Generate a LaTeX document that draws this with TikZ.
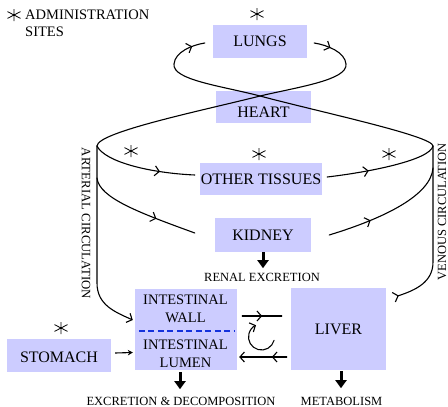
\documentclass[tikz,border=0pt]{standalone}
\usepackage{fontspec}
\setmainfont{Liberation Serif}
\usetikzlibrary{arrows.meta,decorations.markings,calc}
\definecolor{organfill}{RGB}{204,204,255}
\definecolor{wallblue}{RGB}{20,50,220}
\tikzset{
  organ/.style={fill=organfill, inner sep=0pt, align=center,
    font=\fontsize{16}{18}\selectfont},
  gutlabel/.style={inner sep=0pt, align=center, font=\fontsize{14.5}{18}\selectfont},
  flow/.style={line width=1.1pt, line cap=round, line join=round},
  barb/.tip={Straight Barb[length=4.5pt,width=10pt]},
  midtip/.style={postaction={decorate, decoration={markings,
      mark=at position #1 with {\arrow[line width=1.1pt]{barb}}}}},
  bigout/.style={line width=3pt, -{Triangle[length=8pt,width=11pt]}},
  smalltext/.style={font=\fontsize{12.5}{14}\selectfont, inner sep=0pt},
  sidetext/.style={font=\fontsize{12.8}{14}\selectfont, inner sep=0pt},
  astmark/.pic={\draw[line width=0.8pt] (0,-6) -- (0,6)
      (-6.5,-3.4) -- (6.5,3.4) (-6.5,3.4) -- (6.5,-3.4);}
}
\begin{document}
\begin{tikzpicture}[x=1pt,y=-1pt]
\useasboundingbox (0,0) rectangle (448,407);

% organs
\node[organ, minimum width=94pt, minimum height=33pt] (lungs) at (260,41.5) {LUNGS};
\node[organ, minimum width=95pt, minimum height=32pt, text height=20pt, text depth=0pt]
  (heart) at (263.5,107) {HEART};
\node[organ, minimum width=122pt, minimum height=32pt] (tissues) at (261,179) {OTHER TISSUES};
\node[organ, minimum width=96pt, minimum height=34pt] (kidney) at (263,235) {KIDNEY};
\node[organ, minimum width=102pt, minimum height=81pt] (intest) at (186,329.5) {};
\node[organ, minimum width=95pt, minimum height=82pt] (liver) at (338.5,329) {LIVER};
\node[organ, minimum width=104pt, minimum height=33pt, text height=14pt, text depth=0pt]
  (stomach) at (59,355.5) {STOMACH};

\node[gutlabel] (wall) at (185.5,309) {INTESTINAL\\WALL};
\node[gutlabel] (lumen) at (185.5,353.5) {INTESTINAL\\LUMEN};
\draw[wallblue, line width=2.4pt, dash pattern=on 6pt off 3.5pt]
  ($(intest.west)+(4,1.5)$) -- ($(intest.east)+(-3,1.5)$);

% junction points of the circulation
\coordinate (artTop) at (97,146);
\coordinate (venTop) at (433,146);
\coordinate (hx) at (260,96);
\coordinate (swirl) at (261.5,337);

% pulmonary loop through the heart
\draw[flow, midtip=17pt] ($(lungs.east)+(7,1.5)$) .. controls (327,45) and (345,52) .. (346,64)
  .. controls (348,80) and (298,87) .. (hx)
  .. controls (205,110) and (97,132) .. (artTop);
\draw[flow, midtip=-13pt] (venTop) .. controls (433,136) and (320,112) .. (hx)
  .. controls (222,86) and (172,80) .. (174,64)
  .. controls (175,52) and (192,45) .. ($(lungs.west)+(-8,1.5)$);

% arterial side
\draw[flow, -{barb}] (artTop) -- (97,283) .. controls (97,305) and (115,312) .. ($(intest.west)+(-2,-9.5)$);
\draw[flow, midtip=-35pt] (artTop) .. controls (105,162) and (150,173) .. ($(tissues.west)+(-5,-4)$);
\draw[flow, midtip=-41pt] (97,178) .. controls (99,198) and (140,213) .. ($(kidney.west)+(-20,-2)$);

% venous side
\draw[flow, midtip=42pt] ($(tissues.east)+(5,-2)$) .. controls (370,172) and (430,160) .. (venTop);
\draw[flow, midtip=44pt] ($(kidney.east)+(18,0)$) .. controls (385,218) and (431,195) .. (433,168);
\draw[flow, midtip=0.6pt] ($(liver.north east)+(12,8)$) .. controls (416,290) and (433,282) .. (433,262) -- (venTop);

% gut and liver exchange
\draw[flow, midtip=20pt] ($(intest.east)+(5,-13.5)$) -- ($(liver.west)+(-9,-13)$);
\draw[flow, -{barb}, midtip=15pt] ($(liver.west)+(-4,28)$) -- ($(intest.east)+(2,27.5)$);
\draw[flow, -{barb}] (swirl) ++(15:13) arc[start angle=15, end angle=245, radius=13];
\draw[line width=1.1pt, -{Stealth[length=5pt,width=5.5pt]}]
  ($(stomach.east)+(4,-2.5)$) -- ($(intest.west)+(-2,23)$);

% elimination
\draw[bigout] (kidney.south) -- ++(0,16);
\draw[bigout] ($(intest.south)+(-6,2)$) -- ++(0,17);
\draw[bigout] ($(liver.south)+(2.5,1)$) -- ++(0,17);

\node[smalltext] (renal) at (262,277) {RENAL EXCRETION};
\node[smalltext] (excr) at (181,401) {EXCRETION \& DECOMPOSITION};
\node[smalltext] (metab) at (341.5,401) {METABOLISM};
\node[sidetext, rotate=-90] (artlab) at (86,223.5) {ARTERIAL CIRCULATION};
\node[smalltext, rotate=90] (venlab) at (442,212) {VENOUS CIRCULATION};

% administration sites
\pic at (14,15) {astmark};
\node[anchor=west, align=left, inner sep=0pt, font=\fontsize{14.5}{17}\selectfont]
  (legend) at (25,23.5) {ADMINISTRATION\\SITES};
\pic at (257,14) {astmark};
\pic at (61,328) {astmark};
\pic at (131,151) {astmark};
\pic at (259,154) {astmark};
\pic at (389,154) {astmark};
\end{tikzpicture}
\end{document}
